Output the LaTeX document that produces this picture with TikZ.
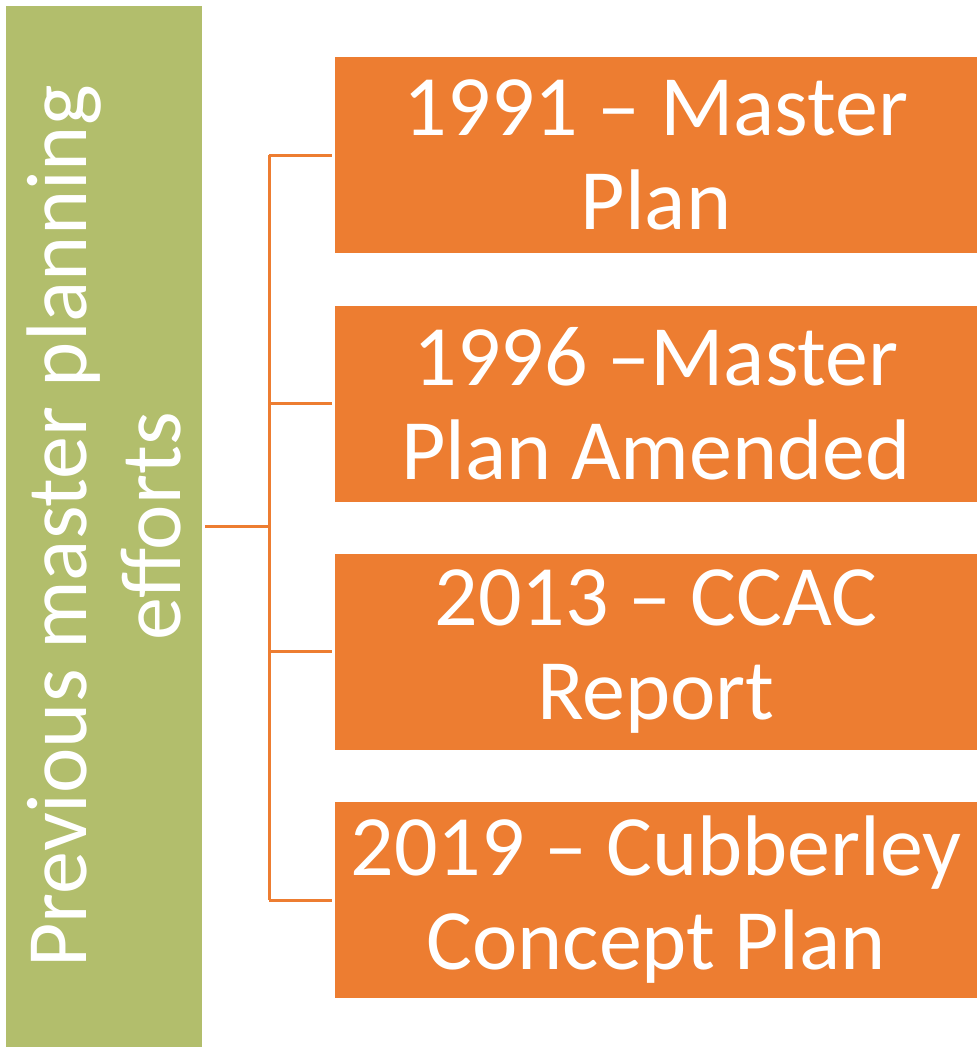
\documentclass[tikz,border=0pt]{standalone}
\usepackage{fontspec}
\setmainfont{Carlito}
\usetikzlibrary{positioning}
\definecolor{leaf}{HTML}{B2BE6C}
\definecolor{rust}{HTML}{ED7D31}

\begin{document}
\begin{tikzpicture}[x=1pt, y=-1pt,
  bigtext/.style={text=white, align=center, font=\fontsize{86}{94}\selectfont},
  effort/.style={bigtext, fill=rust, minimum width=642pt, minimum height=196pt, inner sep=0pt},
  link/.style={draw=rust, line width=3pt}]

  \useasboundingbox (0,0) rectangle (977,1047);

  \node[fill=leaf, minimum width=196pt, minimum height=1041pt, inner sep=0pt] (prev) at (104,526.5) {};
  \node[bigtext, rotate=90] (prevlabel) at (prev.center) {Previous master planning\\efforts};

  \node[effort] (p1991) at (656,155)   {1991 -- Master\\Plan};
  \node[effort] (p1996) at (656,403.5) {1996 --Master\\Plan Amended};
  \node[effort] (p2013) at (656,651.5) {2013 -- CCAC\\Report};
  \node[effort] (p2019) at (656,900)   {2019 -- Cubberley\\Concept Plan};

  \coordinate[right=67pt of prev.east] (hub);
  \draw[link, shorten <=3pt] (prev.east) -- (hub);
  \draw[link] (hub |- p1991.west) -- (hub |- p2019.west);
  \foreach \p in {p1991,p1996,p2013,p2019}
    \draw[link, shorten >=3pt] (hub |- \p.west) -- (\p.west);

\end{tikzpicture}
\end{document}
